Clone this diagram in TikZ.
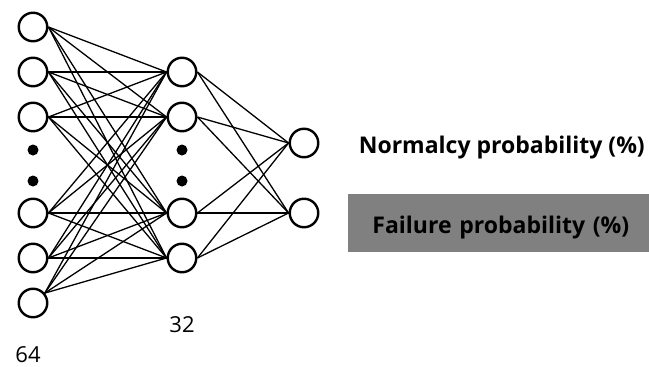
\documentclass[tikz,border=0pt]{standalone}
\usepackage{fontspec}
\setmainfont{Open Sans}
\usetikzlibrary{positioning}
\definecolor{boxgray}{HTML}{808080}

\begin{document}
\begin{tikzpicture}[x=1pt, y=-1pt,
        neuron/.style={draw, circle, line width=2.4pt, minimum size=28.5pt, inner sep=0pt},
        ellip/.style={fill, circle, minimum size=11pt, inner sep=0pt},
        link/.style={line width=1.3pt},
        label/.style={font=\bfseries\fontsize{23}{27}\selectfont}]
        \useasboundingbox (0,0) rectangle (649,367);

        % Input layer
        \node[neuron] (in1) at (33,27) {};
        \node[neuron] (in2) at (33,72) {};
        \node[neuron] (in3) at (33,117) {};
        \node[ellip] (indot1) at (33,150) {};
        \node[ellip] (indot2) at (33,181) {};
        \node[neuron] (in4) at (33,213) {};
        \node[neuron] (in5) at (33,258) {};
        \node[neuron] (in6) at (33,303) {};

        % Hidden layer
        \node[neuron] (hid1) at (182,72) {};
        \node[neuron] (hid2) at (182,117) {};
        \node[ellip] (hiddot1) at (182,150) {};
        \node[ellip] (hiddot2) at (182,181) {};
        \node[neuron] (hid3) at (182,213) {};
        \node[neuron] (hid4) at (182,258) {};

        % Output layer
        \node[neuron] (out1) at (304,143) {};
        \node[neuron] (out2) at (304,213) {};

        % Layer sizes
        \node[font=\fontsize{22}{26}\selectfont, inner sep=0pt] (size32) at (182,325) {32};
        \node[font=\fontsize{22}{26}\selectfont, inner sep=0pt] (size64) at (28,355) {64};

        % Output labels
        \node[label, anchor=east, inner sep=0pt] (normal) at (645,148) {Normalcy probability (\%)};
        \node[label, fill=boxgray, minimum height=58pt, text width=261pt, align=right, inner xsep=20pt,
              text height=22pt, text depth=2pt, anchor=west] (fail) at (348,223) {Failure probability (\%)};

        % Connections
        \foreach \i/\a in {1/0,2/0,3/0,4/0,5/0,6/40}
            \foreach \h in {1,...,4}
                \draw[link] (in\i.\a) -- (hid\h.west);
        \foreach \h in {1,...,4}
            \foreach \o in {1,2}
                \draw[link] (hid\h.east) -- (out\o.west);
    \end{tikzpicture}
\end{document}
